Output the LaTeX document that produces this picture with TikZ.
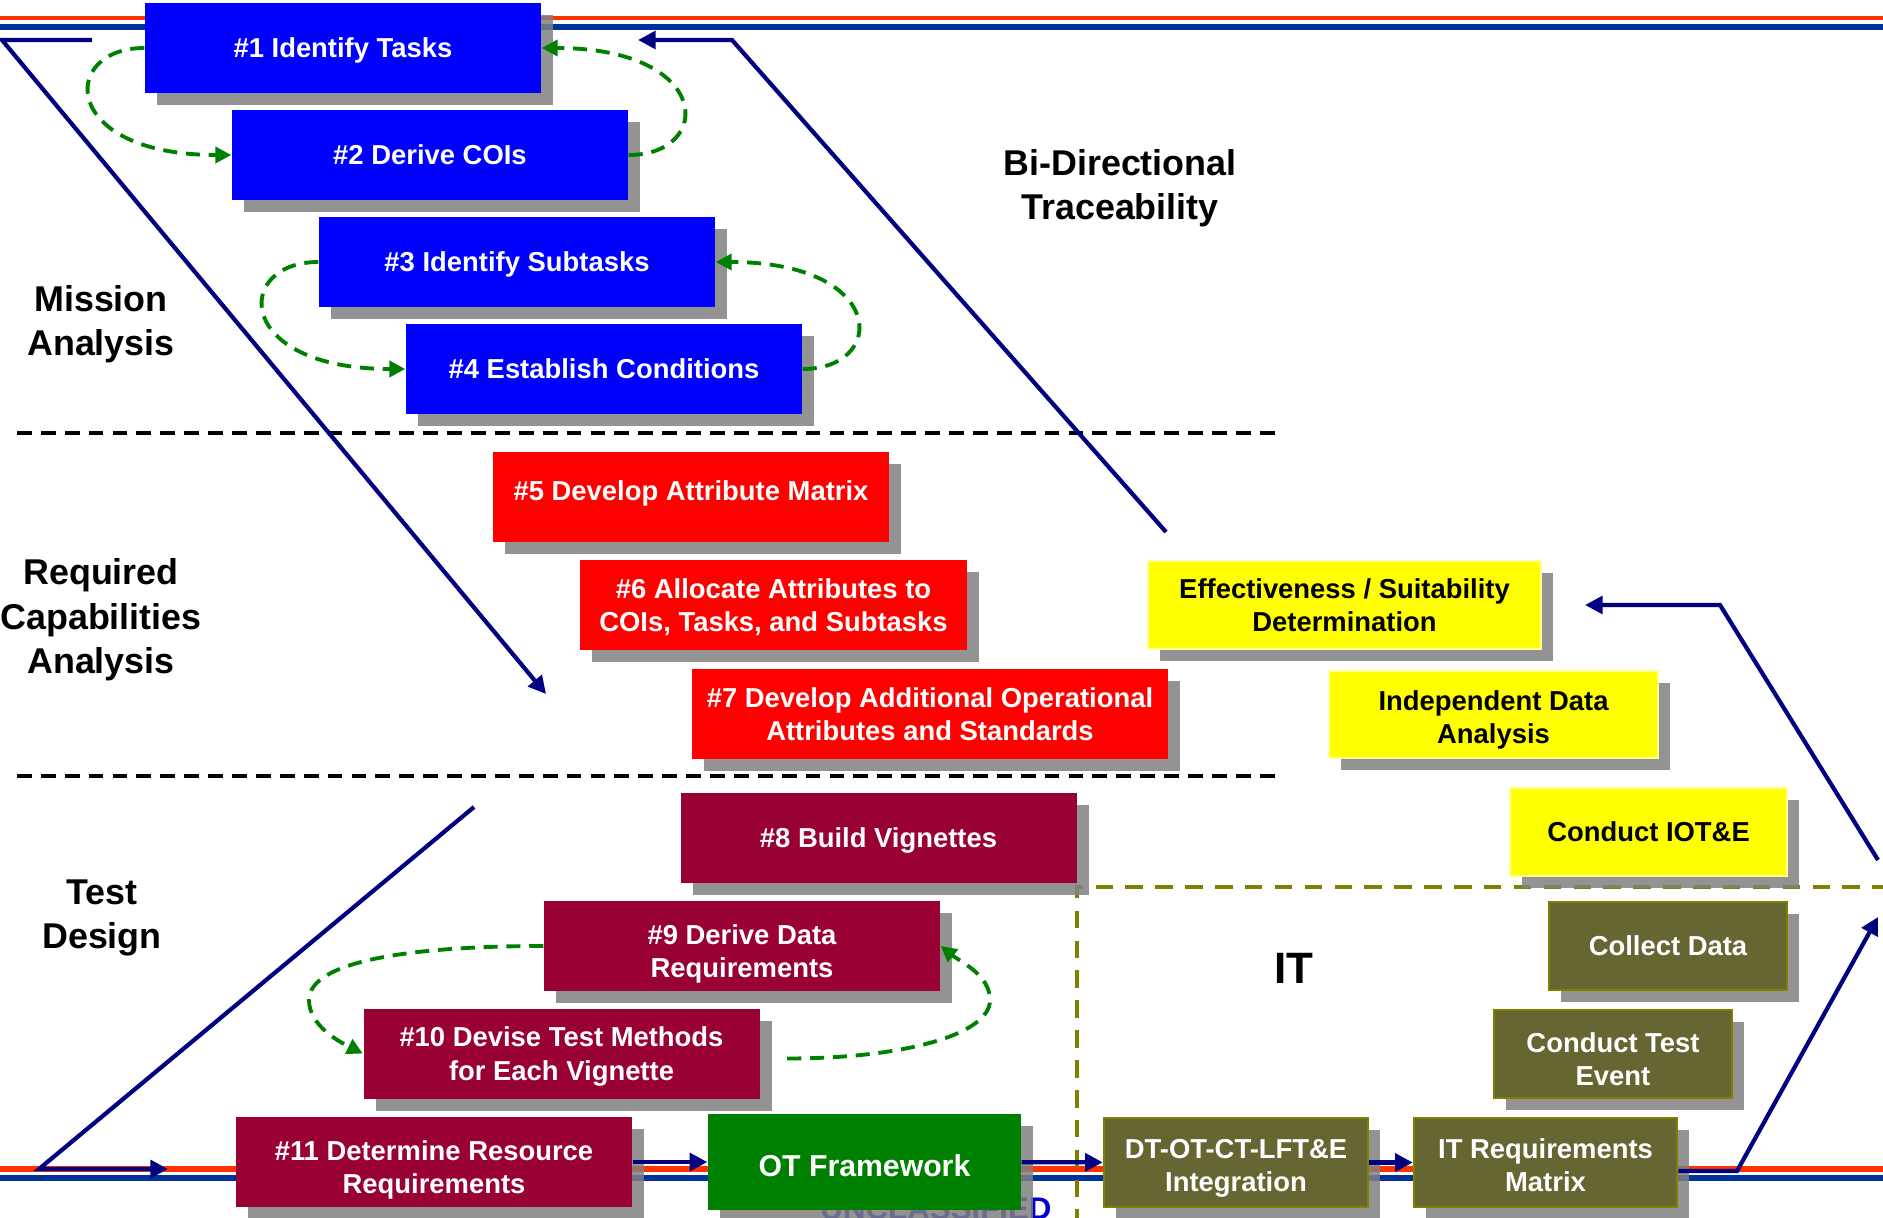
\documentclass[tikz,border=0pt]{standalone}
\usepackage{fontspec}
\setmainfont{Liberation Sans}
\usepackage{tikz}
\usetikzlibrary{arrows.meta}
\usetikzlibrary{shadows}
\usepackage{xcolor}

\definecolor{taskblue}{RGB}{0,0,255}
\definecolor{attrred}{RGB}{255,0,0}
\definecolor{designmaroon}{RGB}{153,0,51}
\definecolor{otgreen}{RGB}{0,128,0}
\definecolor{itolive}{RGB}{102,102,51}
\definecolor{itedge}{RGB}{128,128,0}
\definecolor{iotyellow}{RGB}{255,255,0}
\definecolor{iotedge}{RGB}{255,255,153}
\definecolor{tracenavy}{RGB}{0,0,128}
\definecolor{loopgreen}{RGB}{0,128,0}
\definecolor{bandorange}{RGB}{255,51,0}
\definecolor{bandblue}{RGB}{0,51,153}
\definecolor{footblue}{RGB}{0,0,204}

\begin{document}
\begin{tikzpicture}[
  stepbox/.style={minimum width=3.96cm, minimum height=0.9cm, inner sep=0pt,
    align=center, text=white, font=\fontsize{7.8}{9.5}\selectfont\bfseries, text depth=0pt,
    drop shadow={shadow xshift=0.12cm, shadow yshift=-0.12cm, fill=black!50, opacity=0.85}},
  lowtext/.style={text height=18pt},
  midtext/.style={text height=16.5pt},
  taskbox/.style={stepbox, fill=taskblue},
  attrbox/.style={stepbox, fill=attrred},
  designbox/.style={stepbox, fill=designmaroon},
  itbox/.style={stepbox, fill=itolive, draw=itedge, line width=0.7pt},
  iotbox/.style={stepbox, fill=iotyellow, draw=iotedge, line width=0.7pt, text=black},
  phaselabel/.style={align=center, font=\fontsize{10.2}{12.6}\selectfont\bfseries},
  tracearrow/.style={draw=tracenavy, line width=1.2pt, -{Triangle[length=5pt,width=5pt]}},
  greenloop/.style={draw=loopgreen, line width=1.1pt, dash pattern=on 4pt off 2.5pt,
    -{Triangle[length=4.5pt,width=4.5pt]}},
  sepline/.style={black, line width=1pt, dash pattern=on 4.2pt off 2.6pt},
  itframe/.style={itedge, line width=1.1pt, dash pattern=on 5pt off 3.5pt}
]

\useasboundingbox (0,0) rectangle (18.83,12.17);

% bands
\draw[bandorange, line width=1.4pt] (0,11.99)--(18.83,11.99);
\draw[bandblue, line width=1.7pt] (0,11.90)--(18.83,11.90);
\draw[bandorange, line width=1.5pt] (0,0.48)--(18.83,0.48);
\draw[bandblue, line width=1.7pt] (0,0.39)--(18.83,0.39);

\node[anchor=base, text=footblue, font=\fontsize{8.9}{10}\selectfont\bfseries] (foot) at (9.36,-0.02) {UNCLASSIFIED};

%dashed lines
{
\draw[sepline] (0.17,7.84)--(12.82,7.84);
\draw[sepline] (0.17,4.41)--(12.82,4.41);

\draw[itframe] (10.77,-0.1)--(10.77,3.30)--(18.9,3.30);
}

% boxes
{
\node[taskbox] (b1) at (3.43,11.69) {\#1 Identify Tasks};
\node[taskbox] (b2) at (4.30,10.62) {\#2 Derive COIs};
\node[taskbox] (b3) at (5.17,9.55) {\#3 Identify Subtasks};
\node[taskbox] (b4) at (6.04,8.48) {\#4 Establish Conditions};

\node[attrbox, text depth=3.6pt] (b5) at (6.91,7.20) {\#5 Develop Attribute Matrix};
\node[attrbox, minimum width=3.87cm] (b6) at (7.735,6.12) {\#6 Allocate Attributes to\\COIs, Tasks, and Subtasks};
\node[attrbox, minimum width=4.76cm] (b7) at (9.30,5.03) {\#7 Develop Additional Operational\\Attributes and Standards};

\node[designbox] (b8) at (8.785,3.79) {\#8 Build Vignettes};
\node[designbox, lowtext] (b9) at (7.42,2.71) {\#9 Derive Data\\Requirements};
\node[designbox] (b10) at (5.615,1.635) {\#10 Devise Test Methods\\for Each Vignette};
\node[designbox, lowtext] (b11) at (4.34,0.55) {\#11 Determine Resource\\Requirements};

\node[stepbox, fill=otgreen, minimum width=3.13cm, minimum height=0.96cm,
  font=\fontsize{8.6}{10}\selectfont\bfseries, text height=8.4pt] (ot) at (8.645,0.55) {OT Framework};

\node[itbox, midtext, minimum width=2.64cm, minimum height=0.89cm] (dtot) at (12.36,0.545) {DT-OT-CT-LFT\&E\\Integration};
\node[itbox, midtext, minimum width=2.63cm, minimum height=0.89cm] (itreq) at (15.455,0.545) {IT Requirements\\Matrix};
\node[itbox, lowtext, minimum width=2.38cm, minimum height=0.88cm] (event) at (16.13,1.63) {Conduct Test\\Event};
\node[itbox, minimum width=2.38cm, minimum height=0.88cm] (collect) at (16.68,2.71) {Collect Data};

\node[iotbox, minimum width=2.77cm, minimum height=0.88cm] (iote) at (16.485,3.85) {Conduct IOT\&E};
\node[iotbox, midtext, minimum width=3.29cm, minimum height=0.87cm] (indep) at (14.935,5.025) {Independent Data\\Analysis};
\node[iotbox, minimum width=3.93cm, minimum height=0.88cm] (effect) at (13.445,6.12) {Effectiveness / Suitability\\Determination};
}

% labels
{
\node[phaselabel] (mission) at (1.01,8.93) {Mission\\Analysis};
\node[phaselabel] (reqcap) at (1.01,5.97) {Required\\Capabilities\\Analysis};
\node[phaselabel] (testdes) at (1.02,2.99) {Test\\Design};
\node[phaselabel] (bidir) at (11.20,10.29) {Bi-Directional\\Traceability};
\node[font=\fontsize{12.5}{14}\selectfont\bfseries] (itlbl) at (12.94,2.485) {IT};
}

% traceability lines
{
\coordinate (lstart) at (0.92,11.77);
\coordinate (lcorner) at (0.02,11.77);
\coordinate (lend) at (5.46,5.23);

\coordinate (bstart) at (4.74,4.10);
\coordinate (bcorner) at (0.39,0.48);
\coordinate (bend) at (1.68,0.48);

\coordinate (ustart) at (11.66,6.85);
\coordinate (ucorner) at (7.32,11.77);
\coordinate (uend) at (6.38,11.77);

\coordinate (rcorner) at (17.37,0.46);
\coordinate (rend) at (18.78,3.00);

\coordinate (rstart) at (18.78,3.57);
\coordinate (rtop) at (17.20,6.12);
\coordinate (rtip) at (15.85,6.12);

\draw[tracearrow] (lstart)--(lcorner)--(lend);
\draw[tracearrow] (bstart)--(bcorner)--(bend);
\draw[tracearrow] (ustart)--(ucorner)--(uend);
\draw[tracearrow] ([yshift=-0.085cm]itreq.east)--(rcorner)--(rend);
\draw[tracearrow] (rstart)--(rtop)--(rtip);

\draw[tracearrow] (b11)--(ot);
\draw[tracearrow] (ot)--(dtot);
\draw[tracearrow] (dtot)--(itreq);
}

% green loops
{
\draw[greenloop] (b1.west) .. controls +(-0.85,0) and +(-1.72,0) .. (b2.west);
\draw[greenloop] (b2.east) .. controls +(0.85,0) and +(1.72,0) .. (b1.east);
\draw[greenloop] (b3.west) .. controls +(-0.85,0) and +(-1.72,0) .. (b4.west);
\draw[greenloop] (b4.east) .. controls +(0.85,0) and +(1.72,0) .. (b3.east);

\coordinate (loopl) at (3.09,2.17);
\coordinate (loopr) at (9.90,2.17);
\draw[greenloop] (b9.west) .. controls +(-1.27,0) and +(0,0.40) .. (loopl)
  .. controls +(0,-0.25) and +(-0.25,0.125) .. (b10.west);
\draw[greenloop] ([xshift=0.27cm,yshift=-0.05cm]b10.east) .. controls +(1.15,0) and +(0,-0.35) .. (loopr)
  .. controls +(0,0.25) and +(0.2,-0.16) .. (b9.east);
}

\end{tikzpicture}
\end{document}
